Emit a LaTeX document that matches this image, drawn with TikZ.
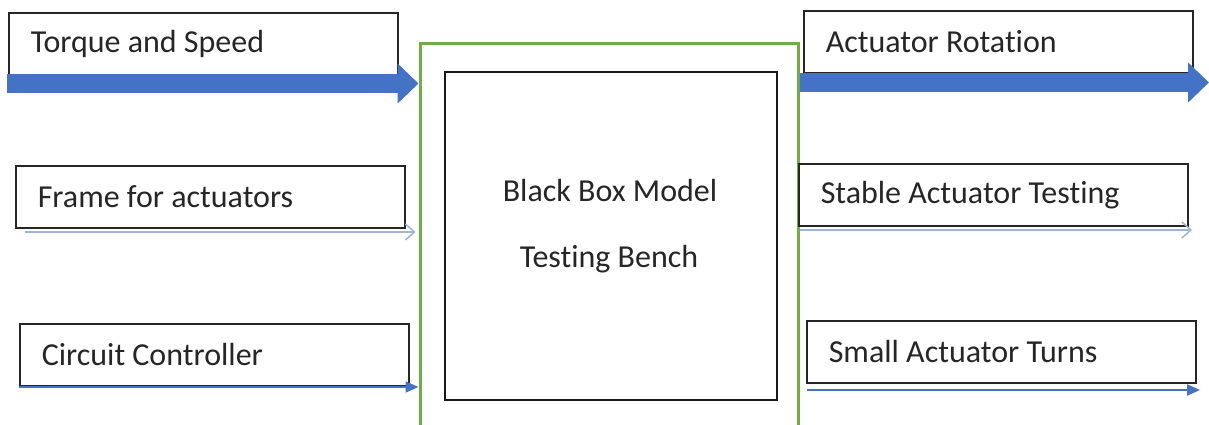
\documentclass[tikz,border=0pt]{standalone}
\usepackage{fontspec}
\setmainfont{Carlito}[Ligatures=NoCommon, Contextuals=NoAlternate]
\usetikzlibrary{arrows.meta}
\definecolor{obl}{HTML}{4472C4}
\definecolor{ogr}{HTML}{70AD47}
\definecolor{lbl}{HTML}{9DB5DC}
\begin{document}
\begin{tikzpicture}[x=1pt,y=-1pt,
  every node/.style={font=\fontsize{32}{38}\selectfont, text=black!85},
  lbox/.style={draw=black!85, line width=1.5pt, fill=white, minimum height=62pt,
    inner xsep=22pt, inner ysep=0pt, anchor=north west, text width=345pt, align=flush left},
  thick arrow/.style={obl, line width=19pt, -{Triangle[length=21pt,width=39pt]}},
  thin open/.style={lbl, line width=1.5pt, -{Straight Barb[length=9pt,width=16pt]}},
  thin fill/.style={obl, line width=2pt, -{Triangle[length=13pt,width=11pt]}}]
\useasboundingbox (0,0) rectangle (1209,424);
% main boxes
\node[draw=ogr, line width=3pt, minimum width=378pt, minimum height=397pt, inner sep=0pt] (green) at (609,241.5) {};
\node[draw=black!90, line width=1.8pt, minimum width=332pt, minimum height=328pt, inner sep=0pt] (inner) at (611,236) {};
\node[anchor=base] (bb1) at (610,201) {Black Box Model};
\node[anchor=base] (bb2) at (609,267) {Testing Bench};
% label boxes
\node[lbox] (torque) at (8,12) {Torque and Speed};
\node[lbox] (rot) at (803,10) {Actuator Rotation};
\node[lbox] (frame) at (15,165) {Frame for actuators};
\node[lbox] (stable) at (798,163) {Stable Actuator Testing};
\node[lbox] (circ) at (19,323) {Circuit Controller};
\node[lbox] (small) at (806,320) {Small Actuator Turns};
% arrows
\coordinate (tin) at (7,83.5);
\draw[thick arrow] (tin) -- (tin -| green.west);
\coordinate (tout) at (1209,82.5);
\draw[thick arrow] (green.east |- tout) -- (tout);
\coordinate (fin) at (25,232);
\draw[thin open, shorten >=3pt] (fin) -- (fin -| green.west);
\coordinate (sout) at (1192,230);
\draw[thin open] (green.east |- sout) -- (sout);
\coordinate (cin) at (19,387);
\draw[thin fill] (cin) -- (cin -| green.west);
\coordinate (smout) at (1200,390);
\draw[thin fill] ([xshift=7pt]green.east |- smout) -- (smout);
\end{tikzpicture}
\end{document}
